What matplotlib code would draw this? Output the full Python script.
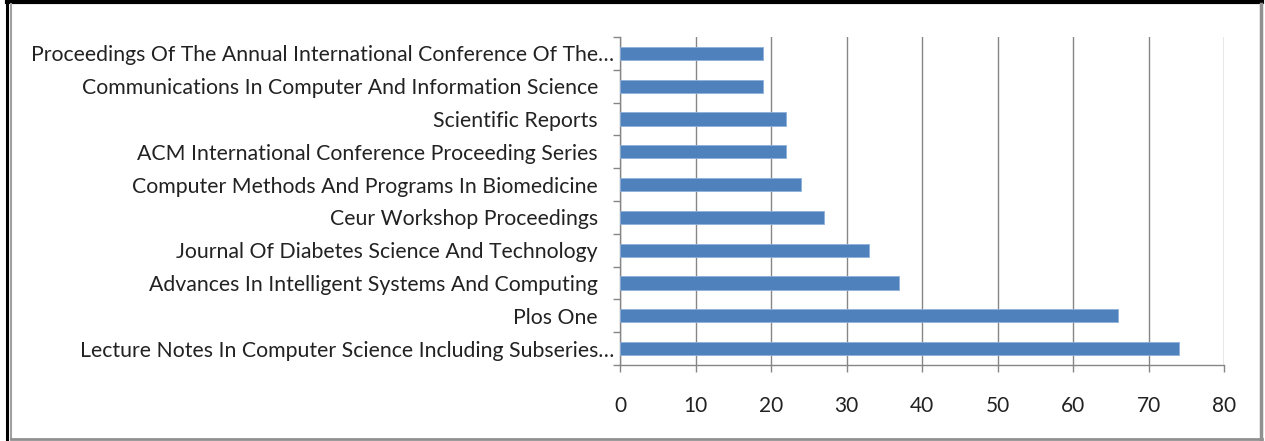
import matplotlib
matplotlib.use("Agg")
import matplotlib.pyplot as plt
from matplotlib.lines import Line2D
import matplotlib.transforms as mtransforms
import numpy as np

categories = [
    "Proceedings Of The Annual International Conference Of The…",
    "Communications In Computer And Information Science",
    "Scientific Reports",
    "ACM International Conference Proceeding Series",
    "Computer Methods And Programs In Biomedicine",
    "Ceur Workshop Proceedings",
    "Journal Of Diabetes Science And Technology",
    "Advances In Intelligent Systems And Computing",
    "Plos One",
    "Lecture Notes In Computer Science Including Subseries…",
]
values = [19, 19, 22, 22, 24, 27, 33, 37, 66, 74]
xticks = [0, 10, 20, 30, 40, 50, 60, 70, 80]

W, H = 1265, 441
fig = plt.figure(figsize=(W / 100, H / 100), dpi=100)
plt.rcParams['font.family'] = ['Lato', 'DejaVu Sans']

ax = fig.add_axes([620 / W, 1 - 365 / H, (1224 - 620) / W, (365 - 37) / H])

n = len(categories)
ypos = np.arange(n)[::-1]
ax.barh(ypos, values, height=0.4, color="#4F81BD", edgecolor="#8EB0DA", linewidth=0.6, zorder=3)

ax.set_xlim(0, 80)
ax.set_ylim(-0.5, n - 0.5)
ax.set_xticks(xticks)
ax.set_xticklabels([str(t) for t in xticks], fontsize=15, color="#222222")
ax.set_yticks(ypos)
ax.set_yticklabels([])
ax.tick_params(axis="y", length=0)
ax.set_yticks(np.arange(-0.5, n, 1.0), minor=True)
ax.tick_params(axis="y", which="minor", length=5, color="#868686", width=1)
ax.tick_params(axis="x", length=5, color="#868686", width=1, pad=17, direction="out")

# category labels (Excel-style: truncated labels overflow by the ellipsis)
base = mtransforms.blended_transform_factory(ax.transAxes, ax.transData)
for y, lab in zip(ypos, categories):
    dx = -6 if lab.endswith("…") else -22
    tr = mtransforms.offset_copy(base, fig=fig, x=dx, y=0, units="dots")
    ax.text(0, y, lab, transform=tr, ha="right", va="center_baseline",
            fontsize=15.3, color="#222222", clip_on=False)

ax.grid(axis="x", color="#868686", linewidth=1, zorder=0)
for s in ["top", "right"]:
    ax.spines[s].set_visible(False)
for s in ["left", "bottom"]:
    ax.spines[s].set_color("#868686")
    ax.spines[s].set_linewidth(1)

# outer frame
def fl(x0, y0, x1, y1, color, lw):
    fig.add_artist(Line2D([x0 / W, x1 / W], [1 - y0 / H, 1 - y1 / H], color=color, linewidth=lw,
                          transform=fig.transFigure))

fl(7, 2, 1262, 2, "black", 3)
fl(7, 2, 7, 441, "black", 2.2)
fl(11, 4, 11, 439, "#A0A0A0", 1.5)
fl(1261, 4, 1261, 439, "#909090", 2.5)
fl(11, 439, 1262, 439, "#909090", 2)

fig.savefig("out.png", dpi=100)
